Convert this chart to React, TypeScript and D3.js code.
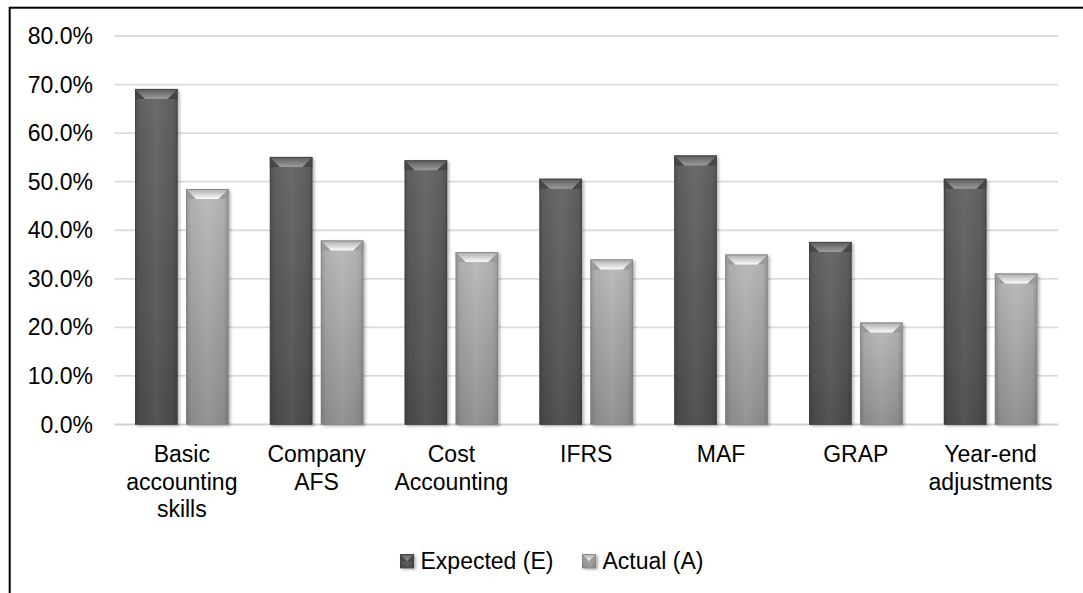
import React from "react";
import * as d3 from "d3";

const categories: string[][] = [
  ["Basic", "accounting", "skills"],
  ["Company", "AFS"],
  ["Cost", "Accounting"],
  ["IFRS"],
  ["MAF"],
  ["GRAP"],
  ["Year-end", "adjustments"],
];
const seriesNames = ["Expected (E)", "Actual (A)"];
const expectedValues = [69.1, 55.1, 54.4, 50.6, 55.4, 37.6, 50.6];
const actualValues = [48.5, 37.9, 35.5, 34.0, 35.0, 21.0, 31.1];
const yTicks = [0, 10, 20, 30, 40, 50, 60, 70, 80];

const W = 1083;
const H = 593;
const FONT = "'Liberation Sans', Arial, sans-serif";

const styles = [
  { body: "gExpBody", top: "gExpTop", side: "#474747", edge: "#3e3e3e" },
  { body: "gActBody", top: "gActTop", side: "#9a9a9a", edge: "#808080" },
];

function Bar({ x, y, w, h, s }: { x: number; y: number; w: number; h: number; s: number }) {
  const st = styles[s];
  const d = Math.min(10, h / 2);
  return (
    <g>
      <rect x={x} y={y} width={w} height={h} fill={`url(#${st.body})`} filter="url(#shadow)" />
      <rect x={x} y={y} width={w} height={h} fill="url(#gEdge)" />
      <polygon points={`${x},${y} ${x + d},${y + d} ${x},${y + d}`} fill={st.side} />
      <polygon points={`${x + w},${y} ${x + w - d},${y + d} ${x + w},${y + d}`} fill={st.side} />
      <polygon points={`${x},${y} ${x + w},${y} ${x + w - d},${y + d} ${x + d},${y + d}`} fill={`url(#${st.top})`} />
      <rect x={x + 0.5} y={y + 0.5} width={w - 1} height={h - 0.5} fill="none" stroke={st.edge} strokeWidth={1} strokeOpacity={0.7} />
    </g>
  );
}

export default function App() {
  const left = 114.4;
  const right = 1058;
  const y0 = 424.5;
  const yTop = 36;

  const x = d3.scaleBand<number>().domain(d3.range(categories.length)).range([left, right]).paddingInner(0).paddingOuter(0);
  const xs = d3
    .scaleBand<number>()
    .domain([0, 1])
    .range([0, x.bandwidth()])
    .paddingInner(0.1667)
    .paddingOuter(0.405);
  const y = d3.scaleLinear().domain([0, 80]).range([y0, yTop]);
  const fmt = (v: number) => v.toFixed(1) + "%";
  const seriesData = [expectedValues, actualValues];

  return (
    <svg width={W} height={H} style={{ position: "fixed", left: 0, top: 0, background: "#fff" }} fontFamily={FONT}>
      <defs>
        <filter id="shadow" x="-20%" y="-20%" width="150%" height="140%">
          <feDropShadow dx={2} dy={1.5} stdDeviation={1.8} floodColor="#000" floodOpacity={0.3} />
        </filter>
        <linearGradient id="gExpBody" x1="0" y1="0" x2="0" y2="1">
          <stop offset="0" stopColor="#646464" />
          <stop offset="1" stopColor="#4c4c4c" />
        </linearGradient>
        <linearGradient id="gActBody" x1="0" y1="0" x2="0" y2="1">
          <stop offset="0" stopColor="#b9b9b9" />
          <stop offset="1" stopColor="#8f8f8f" />
        </linearGradient>
        <linearGradient id="gEdge" x1="0" y1="0" x2="1" y2="0">
          <stop offset="0" stopColor="#000" stopOpacity={0.18} />
          <stop offset="0.12" stopColor="#000" stopOpacity={0.04} />
          <stop offset="0.5" stopColor="#fff" stopOpacity={0.05} />
          <stop offset="0.88" stopColor="#000" stopOpacity={0.04} />
          <stop offset="1" stopColor="#000" stopOpacity={0.18} />
        </linearGradient>
        <linearGradient id="gExpTop" x1="0" y1="0" x2="0" y2="1">
          <stop offset="0" stopColor="#5a5a5a" />
          <stop offset="1" stopColor="#9c9c9c" />
        </linearGradient>
        <linearGradient id="gActTop" x1="0" y1="0" x2="0" y2="1">
          <stop offset="0" stopColor="#a9a9a9" />
          <stop offset="1" stopColor="#fafafa" />
        </linearGradient>
      </defs>

      <rect x={0} y={0} width={W} height={H} fill="#fff" />
      <rect x={9.7} y={7.7} width={W + 20} height={H + 20} fill="none" stroke="#000" strokeWidth={2} />

      {yTicks.map((t) => (
        <g key={t}>
          <line x1={left} x2={right} y1={y(t)} y2={y(t)} stroke={t === 0 ? "#d0d0d0" : "#dcdcdc"} strokeWidth={t === 0 ? 2 : 1.8} />
          <text x={93} y={y(t)} dy="0.35em" textAnchor="end" fontSize={23} fill="#000">
            {fmt(t)}
          </text>
        </g>
      ))}

      {seriesData.map((vals, s) =>
        vals.map((v, i) => {
          const bx = (x(i) as number) + (xs(s) as number);
          const by = y(v);
          return <Bar key={`${s}-${i}`} x={bx} y={by} w={xs.bandwidth()} h={y0 - by} s={s} />;
        })
      )}

      {categories.map((lines, i) => (
        <text key={i} x={(x(i) as number) + x.bandwidth() / 2} y={462} textAnchor="middle" fontSize={23} fill="#000">
          {lines.map((ln, j) => (
            <tspan key={j} x={(x(i) as number) + x.bandwidth() / 2} dy={j === 0 ? 0 : 27.5}>
              {ln}
            </tspan>
          ))}
        </text>
      ))}

      {seriesNames.map((name, s) => {
        const lx = [400, 582][s];
        return (
          <g key={name}>
            <Bar x={lx} y={554} w={14} h={14} s={s} />
            <text x={lx + 20.5} y={569} fontSize={23} fill="#000">
              {name}
            </text>
          </g>
        );
      })}
    </svg>
  );
}
